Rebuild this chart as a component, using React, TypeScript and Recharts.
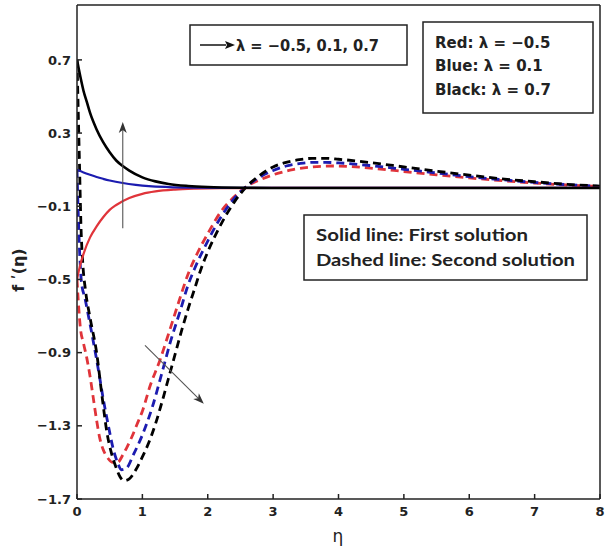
import React from 'react';
import { LineChart, Line, XAxis, YAxis, ReferenceLine } from 'recharts';

// ---- axis ticks ----
const xTicks = [0, 1, 2, 3, 4, 5, 6, 7, 8];
const yTicks = [-1.7, -1.3, -0.9, -0.5, -0.1, 0.3, 0.7];

// ---- first solution (solid) : [eta, f'(eta)] ----
const redFirst: [number, number][] = [
  [0, -0.5], [0.05, -0.42], [0.1, -0.36], [0.2, -0.27], [0.3, -0.21], [0.4, -0.16],
  [0.5, -0.12], [0.6, -0.093], [0.8, -0.055], [1.0, -0.032], [1.2, -0.019], [1.5, -0.009],
  [1.8, -0.004], [2.2, -0.001], [3, 0], [4, 0], [5, 0], [6, 0], [7, 0], [8, 0],
];
const blueFirst: [number, number][] = [
  [0, 0.1], [0.1, 0.085], [0.2, 0.072], [0.3, 0.06], [0.4, 0.05], [0.5, 0.041],
  [0.7, 0.027], [0.9, 0.017], [1.1, 0.01], [1.4, 0.005], [1.8, 0.002], [2.5, 0],
  [3, 0], [4, 0], [5, 0], [6, 0], [7, 0], [8, 0],
];
const blackFirst: [number, number][] = [
  [0, 0.7], [0.05, 0.61], [0.1, 0.53], [0.15, 0.47], [0.2, 0.41], [0.3, 0.32],
  [0.4, 0.25], [0.5, 0.195], [0.6, 0.15], [0.7, 0.12], [0.8, 0.095], [1.0, 0.058],
  [1.2, 0.036], [1.4, 0.022], [1.7, 0.011], [2.0, 0.005], [2.5, 0.001], [3, 0],
  [4, 0], [5, 0], [6, 0], [7, 0], [8, 0],
];

// ---- second solution (dashed) ----
const redSecond: [number, number][] = [
  [0, -0.5], [0.02, -0.62], [0.05, -0.76], [0.1, -0.85], [0.15, -0.93], [0.2, -1.03],
  [0.25, -1.15], [0.3, -1.27], [0.35, -1.37], [0.4, -1.43], [0.46, -1.47], [0.55, -1.5],
  [0.62, -1.5], [0.7, -1.46], [0.76, -1.42], [0.84, -1.36], [0.92, -1.29], [1.0, -1.22],
  [1.12, -1.08], [1.27, -0.94], [1.38, -0.82], [1.55, -0.63], [1.7, -0.47], [1.85, -0.35],
  [2.0, -0.25], [2.2, -0.13], [2.4, -0.05], [2.6, 0.01], [2.8, 0.045], [3.0, 0.072],
  [3.3, 0.1], [3.6, 0.115], [3.9, 0.12], [4.2, 0.117], [4.6, 0.105], [5.0, 0.09],
  [5.5, 0.072], [6.0, 0.055], [6.5, 0.04], [7.0, 0.027], [7.5, 0.016], [8.0, 0.008],
];
const blueSecond: [number, number][] = [
  [0, 0.1], [0.02, -0.15], [0.04, -0.35], [0.07, -0.52], [0.12, -0.6], [0.17, -0.69],
  [0.25, -0.84], [0.33, -1.0], [0.4, -1.15], [0.48, -1.3], [0.55, -1.42], [0.62, -1.5],
  [0.68, -1.54], [0.76, -1.53], [0.86, -1.46], [1.0, -1.35], [1.15, -1.2], [1.3, -1.01],
  [1.43, -0.84], [1.58, -0.67], [1.7, -0.53], [1.8, -0.44], [2.0, -0.29], [2.2, -0.16],
  [2.4, -0.06], [2.6, 0.01], [2.8, 0.06], [3.0, 0.095], [3.2, 0.12], [3.4, 0.133],
  [3.6, 0.14], [3.8, 0.14], [4.0, 0.137], [4.5, 0.122], [5.0, 0.102], [5.5, 0.082],
  [6.0, 0.062], [6.5, 0.045], [7.0, 0.03], [7.5, 0.018], [8.0, 0.009],
];
const blackSecond: [number, number][] = [
  [0, 0.7], [0.02, 0.4], [0.04, 0.1], [0.06, -0.2], [0.09, -0.42], [0.13, -0.56],
  [0.2, -0.71], [0.3, -0.9], [0.38, -1.13], [0.46, -1.34], [0.52, -1.44], [0.58, -1.51],
  [0.66, -1.58], [0.72, -1.6], [0.8, -1.59], [0.9, -1.54], [1.0, -1.47], [1.1, -1.39],
  [1.2, -1.29], [1.3, -1.17], [1.4, -1.04], [1.5, -0.91], [1.6, -0.78], [1.7, -0.66],
  [1.8, -0.55], [1.9, -0.44], [2.0, -0.35], [2.2, -0.2], [2.4, -0.08], [2.6, 0.01],
  [2.8, 0.07], [3.0, 0.115], [3.2, 0.14], [3.4, 0.155], [3.6, 0.162], [3.8, 0.162],
  [4.0, 0.157], [4.5, 0.138], [5.0, 0.115], [5.5, 0.092], [6.0, 0.07], [6.5, 0.05],
  [7.0, 0.034], [7.5, 0.02], [8.0, 0.01],
];

// ---- annotation arrows (data coordinates) ----
const upArrow = [{ x: 0.7, y: -0.22 }, { x: 0.7, y: 0.36 }];
const downArrow = [{ x: 1.04, y: -0.86 }, { x: 1.94, y: -1.18 }];

const RED = '#e0343a';
const BLUE = '#1c1cb0';
const BLACK = '#000000';

const toPoints = (arr: [number, number][]) => arr.map(([eta, f]) => ({ eta, f }));

const fmtY = (v: number) => v.toFixed(1).replace('-', '\u2212');

const tickFont = { fontFamily: 'DejaVu Sans', fontWeight: 'bold', fontSize: 13, fill: '#222' };

const ArrowShape = (p: any) => {
  const { x1, y1, x2, y2 } = p;
  const a = Math.atan2(y2 - y1, x2 - x1);
  const c = Math.cos(a), s = Math.sin(a);
  const L = 11, W = 4, N = 8;
  const bx = x2 - L * c, by = y2 - L * s;
  const nx = -s, ny = c;
  const pts = `${x2},${y2} ${bx + W * nx},${by + W * ny} ${x2 - N * c},${y2 - N * s} ${bx - W * nx},${by - W * ny}`;
  return (
    <g>
      <line x1={x1} y1={y1} x2={x2 - N * c} y2={y2 - N * s} stroke="#555" strokeWidth={1.1} />
      <polygon points={pts} fill="#333" />
    </g>
  );
};

export default function App() {
  const dashed = '8 5';
  return (
    <div style={{ position: 'absolute', left: 0, top: 0, width: 606, height: 550, background: '#fff' }}>
      <LineChart
        width={606}
        height={550}
        margin={{ top: 0, right: 0, bottom: 0, left: 0 }}
      >
        <XAxis
          xAxisId={0}
          dataKey="eta"
          type="number"
          domain={[0, 8]}
          ticks={xTicks}
          allowDataOverflow
          height={51}
          tickSize={-5}
          tickMargin={13}
          stroke="#222"
          strokeWidth={1.5}
          tick={tickFont}
        />
        <XAxis
          xAxisId="top"
          orientation="top"
          dataKey="eta"
          type="number"
          domain={[0, 8]}
          ticks={xTicks}
          height={5}
          tickSize={-5}
          stroke="#222"
          strokeWidth={1.5}
          tick={false}
        />
        <YAxis
          yAxisId={0}
          type="number"
          domain={[-1.7, 1.0]}
          ticks={yTicks}
          allowDataOverflow
          width={77}
          tickSize={-5}
          tickMargin={11}
          tickFormatter={fmtY}
          stroke="#222"
          strokeWidth={1.5}
          tick={tickFont}
        />
        <YAxis
          yAxisId="right"
          orientation="right"
          type="number"
          domain={[-1.7, 1.0]}
          ticks={yTicks}
          width={6}
          tickSize={-5}
          stroke="#222"
          strokeWidth={1.5}
          tick={false}
        />
        <Line data={toPoints(redSecond)} dataKey="f" type="monotone" stroke={RED} strokeWidth={2.8} strokeDasharray={dashed} dot={false} isAnimationActive={false} />
        <Line data={toPoints(blueSecond)} dataKey="f" type="monotone" stroke={BLUE} strokeWidth={2.8} strokeDasharray={dashed} dot={false} isAnimationActive={false} />
        <Line data={toPoints(blackSecond)} dataKey="f" type="monotone" stroke={BLACK} strokeWidth={2.8} strokeDasharray={dashed} dot={false} isAnimationActive={false} />
        <Line data={toPoints(redFirst)} dataKey="f" type="monotone" stroke={RED} strokeWidth={2.2} dot={false} isAnimationActive={false} />
        <Line data={toPoints(blueFirst)} dataKey="f" type="monotone" stroke={BLUE} strokeWidth={2.2} dot={false} isAnimationActive={false} />
        <Line data={toPoints(blackFirst)} dataKey="f" type="monotone" stroke={BLACK} strokeWidth={2.6} dot={false} isAnimationActive={false} />
        <ReferenceLine segment={upArrow} shape={ArrowShape} />
        <ReferenceLine segment={downArrow} shape={ArrowShape} />
      </LineChart>
      <svg
        width={606}
        height={550}
        style={{ position: 'absolute', left: 0, top: 0, pointerEvents: 'none' }}
      >
        {/* lambda arrow box */}
        <rect x={190} y={25} width={217} height={40} fill="#fff" stroke="#222" strokeWidth={1.5} />
        <line x1={200} y1={45} x2={226} y2={45} stroke="#111" strokeWidth={1.5} />
        <polygon points="235,45 225,41 227,45 225,49" fill="#111" />
        <text x={236} y={51} fontFamily="DejaVu Sans" fontWeight="bold" fontSize={15} fill="#222" textLength={143} lengthAdjust="spacingAndGlyphs">
          λ = −0.5, 0.1, 0.7
        </text>
        {/* colour key box */}
        <rect x={423} y={22} width={170} height={91} fill="#fff" stroke="#222" strokeWidth={1.5} />
        <text fontFamily="DejaVu Sans" fontWeight="bold" fontSize={15} fill="#222">
          <tspan x={435} y={47.5}>Red: λ = −0.5</tspan>
        </text>
        <text fontFamily="DejaVu Sans" fontWeight="bold" fontSize={15} fill="#222">
          <tspan x={435} y={71}>Blue: λ = 0.1</tspan>
        </text>
        <text fontFamily="DejaVu Sans" fontWeight="bold" fontSize={15} fill="#222">
          <tspan x={435} y={94.5}>Black: λ = 0.7</tspan>
        </text>
        {/* line style box */}
        <rect x={304} y={215} width={283} height={65} fill="#fff" stroke="#222" strokeWidth={1.5} />
        <text x={316} y={241} fontFamily="Lato" fontWeight="bold" fontSize={17} fill="#222" textLength={212} lengthAdjust="spacingAndGlyphs">
          Solid line: First solution
        </text>
        <text x={316} y={266} fontFamily="Lato" fontWeight="bold" fontSize={17} fill="#222" textLength={259} lengthAdjust="spacingAndGlyphs">
          Dashed line: Second solution
        </text>
        {/* axis titles */}
        <text x={338} y={542} textAnchor="middle" fontFamily="DejaVu Sans" fontSize={17} fill="#222">η</text>
        <text
          x={0}
          y={0}
          transform="translate(24,270) rotate(-90)"
          textAnchor="middle"
          fontFamily="DejaVu Sans"
          fontWeight="bold"
          fontSize={16}
          fill="#222"
        >
          f ʹ(η)
        </text>
      </svg>
    </div>
  );
}
